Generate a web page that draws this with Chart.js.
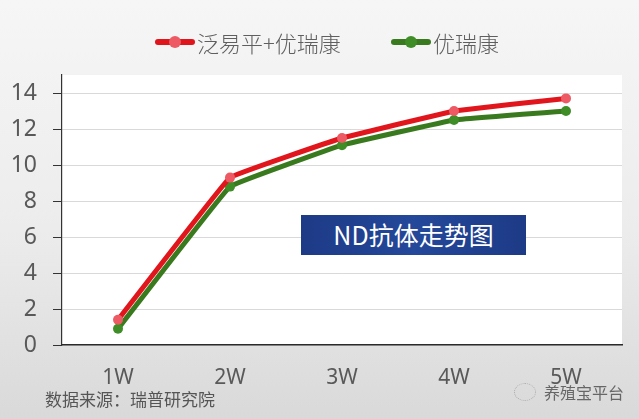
<!DOCTYPE html>
<html>
<head>
<meta charset="utf-8">
<script src="https://cdn.jsdelivr.net/npm/chart.js@4/dist/chart.umd.min.js"></script>
<style>
    html, body {
        margin: 0;
        padding: 0;
        width: 639px;
        height: 419px;
        overflow: hidden;
    }
    body {
        position: relative;
        background: linear-gradient(180deg, #f6f6f6 0%, #ececec 55%, #d9d9d9 100%);
        font-family: "Noto Sans CJK SC", "Noto Sans", sans-serif;
    }
    #wrap { position: absolute; left: 0; top: 0; width: 639px; height: 419px; }
    .legend-item {
        position: absolute;
        top: 27px;
        display: flex;
        align-items: center;
        font-size: 22px;
        font-weight: 300;
        color: #5f5f5f;
        line-height: 30px;
    }
    .legend-line { position: relative; width: 40px; height: 6px; border-radius: 3px; margin-right: 2px; }
    .legend-dot { position: absolute; left: 14px; top: -3px; width: 12px; height: 12px; border-radius: 50%; }
    .badge {
        position: absolute;
        left: 301px;
        top: 215px;
        width: 225px;
        height: 40px;
        background: linear-gradient(90deg, #1d3a86 0%, #24489a 50%, #1d3a86 100%);
        color: #ffffff;
        font-size: 25px;
        line-height: 38px;
        text-align: center;
    }
    .source {
        position: absolute;
        left: 45px;
        top: 386px;
        font-size: 17px;
        color: #555555;
    }
    .mark {
        position: absolute;
        left: 514px;
        top: 380px;
        font-size: 16px;
        color: #666666;
        display: flex;
        align-items: center;
    }
    .mark-icon {
        width: 20px; height: 16px; border: 1.5px dotted #aaa; border-radius: 50%;
        margin-right: 8px;
    }
</style>
</head>
<body>
<div id="wrap"><canvas id="chart" width="639" height="419"></canvas></div>
<div class="legend-item" style="left:155px">
    <span class="legend-line" style="background:#e0141b"><span class="legend-dot" style="background:#ee5a63"></span></span>
    <span>泛易平+优瑞康</span>
</div>
<div class="legend-item" style="left:391px">
    <span class="legend-line" style="background:#3a7a1e"><span class="legend-dot" style="background:#3f8d26"></span></span>
    <span>优瑞康</span>
</div>
<div class="badge">ND抗体走势图</div>
<div class="source">数据来源：瑞普研究院</div>
<div class="mark"><span class="mark-icon"></span>养殖宝平台</div>

<script>
// Weeks after vaccination
const weeks = ['1W', '2W', '3W', '4W', '5W'];

// ND antibody titre per group
const comboValues = [1.4, 9.3, 11.5, 13.0, 13.7];   // 泛易平+优瑞康
const singleValues = [0.9, 8.8, 11.1, 12.5, 13.0];  // 优瑞康

const seriesNames = ['泛易平+优瑞康', '优瑞康'];

// Y axis range and tick labels
const yMax = 15;
const yTicks = [0, 2, 4, 6, 8, 10, 12, 14];

// White plot background
const plotBackground = {
    id: 'plotBackground',
    beforeDraw(chart) {
        const { ctx, chartArea } = chart;
        ctx.save();
        ctx.fillStyle = '#ffffff';
        ctx.fillRect(chartArea.left, chartArea.top, chartArea.right - chartArea.left, chartArea.bottom - chartArea.top);
        ctx.restore();
    }
};

new Chart(document.getElementById('chart').getContext('2d'), {
    type: 'line',
    data: {
        labels: weeks,
        datasets: [{
            label: seriesNames[0],
            data: comboValues,
            borderColor: '#e1161c',
            backgroundColor: '#ee5a63',
            pointBackgroundColor: '#ee5a63',
            pointBorderWidth: 0,
            pointRadius: 5,
            borderWidth: 5,
            tension: 0.05
        }, {
            label: seriesNames[1],
            data: singleValues,
            borderColor: '#3a7a1e',
            backgroundColor: '#3f8d26',
            pointBackgroundColor: '#3f8d26',
            pointBorderWidth: 0,
            pointRadius: 5,
            borderWidth: 5,
            tension: 0.05
        }]
    },
    options: {
        responsive: false,
        animation: false,
        layout: { padding: { left: 10, right: 17, top: 75, bottom: 22 } },
        plugins: {
            legend: { display: false },
            tooltip: { enabled: false }
        },
        scales: {
            x: {
                offset: true,
                grid: { display: false },
                border: { display: true, color: '#2b2b2b', width: 1.5 },
                ticks: {
                    color: '#595959',
                    font: { size: 21, family: 'Noto Sans' },
                    padding: 12
                },
                afterFit(scale) { scale.height = 52; }
            },
            y: {
                min: 0,
                max: yMax,
                afterBuildTicks(axis) {
                    axis.ticks = yTicks.map(v => ({ value: v }));
                },
                ticks: {
                    color: '#595959',
                    font: { size: 23, family: 'Noto Sans' },
                    padding: 16
                },
                grid: {
                    color: '#d9d9d9',
                    tickColor: '#333333',
                    tickLength: 9
                },
                border: { display: true, color: '#333333', width: 1.2 },
                afterFit(scale) { scale.width = 52; }
            }
        }
    },
    plugins: [plotBackground]
});
</script>
</body>
</html>
